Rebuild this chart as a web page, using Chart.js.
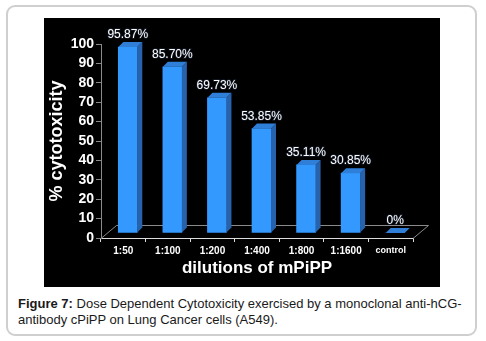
<!DOCTYPE html>
<html>
<head>
<meta charset="utf-8">
<script src="https://cdn.jsdelivr.net/npm/chart.js@4.4.0/dist/chart.umd.min.js"></script>
<style>
  html, body { margin: 0; padding: 0; background: #fff; width: 486px; height: 341px; overflow: hidden; }
  #frame { position: absolute; left: 6px; top: 5px; width: 467px; height: 327px; border: 2px solid #cfcfcf; border-radius: 9px; }
  #plot { position: absolute; left: 44px; top: 18px; width: 396px; height: 269px; background: #000; }
  #caption { position: absolute; left: 18px; top: 296px; width: 462px; font-family: "Liberation Sans", Arial, sans-serif; font-size: 13px; line-height: 16px; color: #1a1a1a; }
</style>
</head>
<body>
<div id="frame"></div>
<div id="plot"><canvas id="c" width="396" height="269"></canvas></div>
<div id="caption"><b>Figure 7:</b> Dose Dependent Cytotoxicity exercised by a monoclonal anti-hCG-antibody cPiPP on Lung Cancer cells (A549).</div>
<script>
const categories = ['1:50', '1:100', '1:200', '1:400', '1:800', '1:1600', 'control'];
const cytotoxicity = [95.87, 85.70, 69.73, 53.85, 35.11, 30.85, 0];
const valueLabels = ['95.87%', '85.70%', '69.73%', '53.85%', '35.11%', '30.85%', '0%'];
const yTicks = [0, 10, 20, 30, 40, 50, 60, 70, 80, 90, 100];

const FRONT = '#3399ff', SIDE = '#2763ad', TOP = '#2f7fd8';
const SHIFT = {x: 4.5, y: -5};   // bar placed mid-depth on the 3D floor
const DEPTH = {x: 5, y: -5};     // bar extrusion
const FLOOR = {x: 15.5, y: -13}; // floor depth

const bar3d = {
  id: 'bar3d',
  beforeDatasetsDraw(chart) {
    const {ctx, chartArea: a} = chart;
    ctx.save();
    ctx.strokeStyle = '#8a8a8a';
    ctx.lineWidth = 1;
    ctx.beginPath();
    ctx.moveTo(a.left, a.bottom + 0.5);
    ctx.lineTo(a.left + FLOOR.x, a.bottom + FLOOR.y + 0.5);
    ctx.lineTo(a.right + FLOOR.x, a.bottom + FLOOR.y + 0.5);
    ctx.lineTo(a.right, a.bottom + 0.5);
    ctx.stroke();
    ctx.restore();
    ctx.save();
    ctx.translate(SHIFT.x, SHIFT.y);
  },
  afterDatasetsDraw(chart) {
    const {ctx} = chart;
    const meta = chart.getDatasetMeta(0);
    meta.data.forEach(el => {
      const {x, y, base, width} = el.getProps(['x', 'y', 'base', 'width'], true);
      const l = x - width / 2, r = x + width / 2;
      ctx.fillStyle = SIDE;
      ctx.beginPath();
      ctx.moveTo(r, y); ctx.lineTo(r + DEPTH.x, y + DEPTH.y);
      ctx.lineTo(r + DEPTH.x, base + DEPTH.y); ctx.lineTo(r, base);
      ctx.closePath(); ctx.fill();
      ctx.fillStyle = TOP;
      ctx.beginPath();
      ctx.moveTo(l, y); ctx.lineTo(l + DEPTH.x, y + DEPTH.y);
      ctx.lineTo(r + DEPTH.x, y + DEPTH.y); ctx.lineTo(r, y);
      ctx.closePath(); ctx.fill();
    });
    ctx.restore();
    // value labels
    ctx.save();
    ctx.font = '12px "Liberation Sans", Arial, sans-serif';
    ctx.textAlign = 'center';
    ctx.textBaseline = 'middle';
    meta.data.forEach((el, i) => {
      const {x, y} = el.getProps(['x', 'y'], true);
      const tx = x + SHIFT.x, ty = y + SHIFT.y - 12;
      ctx.lineWidth = 1.5;
      ctx.strokeStyle = 'rgba(60,80,120,0.35)';
      ctx.strokeText(valueLabels[i], tx, ty);
      ctx.fillStyle = '#ffffff';
      ctx.fillText(valueLabels[i], tx, ty);
    });
    ctx.restore();
  }
};

new Chart(document.getElementById('c'), {
  type: 'bar',
  data: {
    labels: categories,
    datasets: [{
      data: cytotoxicity,
      backgroundColor: FRONT,
      borderWidth: 0,
      barThickness: 19
    }]
  },
  options: {
    responsive: false,
    animation: false,
    events: [],
    layout: { padding: { top: 26, right: 27, left: 0, bottom: 0 } },
    plugins: { legend: { display: false }, tooltip: { enabled: false } },
    scales: {
      x: {
        grid: { display: true, drawOnChartArea: false, drawTicks: true, tickLength: 4, color: '#dddddd', offset: true },
        border: { display: true, color: '#dddddd', width: 1 },
        ticks: {
          color: '#ffffff', padding: 3, maxRotation: 0, autoSkip: false,
          font: ctx => ({ family: '"Liberation Sans", Arial, sans-serif', weight: 'bold', size: ctx.index === 6 ? 9 : 10 })
        },
        title: {
          display: true, text: 'dilutions of mPiPP', color: '#ffffff',
          font: { family: '"Liberation Sans", Arial, sans-serif', weight: 'bold', size: 17 },
          padding: { top: 0, bottom: 8 }
        },
        afterFit(s) { s.height = 49; }
      },
      y: {
        min: yTicks[0], max: yTicks[yTicks.length - 1],
        afterBuildTicks(s) { s.ticks = yTicks.map(v => ({ value: v })); },
        grid: { display: true, drawOnChartArea: false, drawTicks: true, tickLength: 5, color: '#8a8a8a' },
        border: { display: true, color: '#8a8a8a', width: 1 },
        ticks: {
          stepSize: 10, autoSkip: false,
          color: '#ffffff', padding: 2,
          font: { family: '"Liberation Sans", Arial, sans-serif', weight: 'bold', size: 14 }
        },
        title: {
          display: true, text: '% cytotoxicity', color: '#ffffff',
          font: { family: '"Liberation Sans", Arial, sans-serif', weight: 'bold', size: 18 },
          padding: { top: 2, bottom: 0 }
        },
        afterFit(s) { s.width = 57; }
      }
    }
  },
  plugins: [bar3d]
});
</script>
</body>
</html>
